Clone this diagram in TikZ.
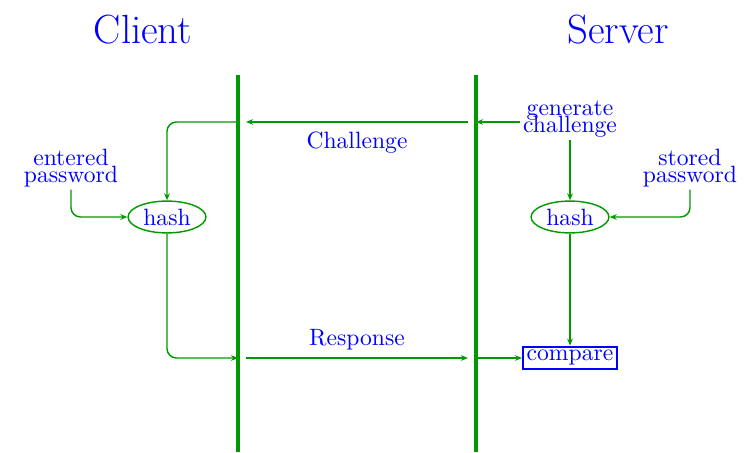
\documentclass[tikz,border=0pt]{standalone}
\usetikzlibrary{arrows.meta,shapes.geometric}
\colorlet{wireGreen}{green!60!black}

\begin{document}
\begin{tikzpicture}
[x=0.4237pt,y=-0.4237pt,
  lineDecorate/.style={-{Stealth[length=3pt,width=2.4pt]},line width=0.6pt,wireGreen,rounded corners=4pt},%
  wallDecorate/.style={line width=1.5pt,wireGreen},%
  textDecorate/.style={blue,align=center,inner sep=1pt},%
  hashDecorate/.style={shape=ellipse,draw=wireGreen,line width=0.6pt,text=blue,inner sep=0pt,minimum width=33pt,minimum height=13.5pt},%
  boxDecorate/.style={draw=blue,line width=1pt,text=blue,inner sep=1.5pt}]
\useasboundingbox (0,0) rectangle (749,453);
%% titles
\node[textDecorate,font=\LARGE] (client) at (143,30) {Client};
\node[textDecorate,font=\LARGE] (server) at (618,30) {Server};
%% the two walls
\foreach \wallname/\x in {c/238, s/476}
{
  \coordinate (\wallname-top) at (\x,75);
  \coordinate (\wallname-bot) at (\x,452);
  \coordinate (\wallname-chal) at (\x,122);
  \coordinate (\wallname-resp) at (\x,358);
  \draw[wallDecorate] (\wallname-top) -- (\wallname-bot);
}
%% nodes
\node[textDecorate] (entered) at (71,168) {entered\\[-5pt]password};
\node[textDecorate] (stored) at (690,168) {stored\\[-5pt]password};
\node[textDecorate] (gen) at (570,119) {generate\\[-5pt]challenge};
\node[hashDecorate] (chash) at (167,217) {hash};
\node[hashDecorate] (shash) at (570,217) {hash};
\node[boxDecorate] (cmp) at (570,358) {compare};
%% server side
\draw[lineDecorate] (gen.west |- s-chal) -- (s-chal);
\draw[lineDecorate] (gen.south) -- (shash.north);
\draw[lineDecorate] (stored.south) |- (shash.east);
\draw[lineDecorate] (shash.south) -- (cmp.north);
\draw[lineDecorate] (s-resp) -- (cmp.west);
%% across the wire
\draw[lineDecorate] ([xshift=-3.4pt]s-chal) -- ([xshift=3.4pt]c-chal)
  node[midway,below=3pt,textDecorate] {Challenge};
\draw[lineDecorate] ([xshift=3.4pt]c-resp) -- ([xshift=-3.4pt]s-resp)
  node[midway,above=2pt,textDecorate] {Response};
%% client side
\draw[lineDecorate] (c-chal) -| (chash.north);
\draw[lineDecorate] (entered.south) |- (chash.west);
\draw[lineDecorate] (chash.south) |- (c-resp);
\end{tikzpicture}
\end{document}
